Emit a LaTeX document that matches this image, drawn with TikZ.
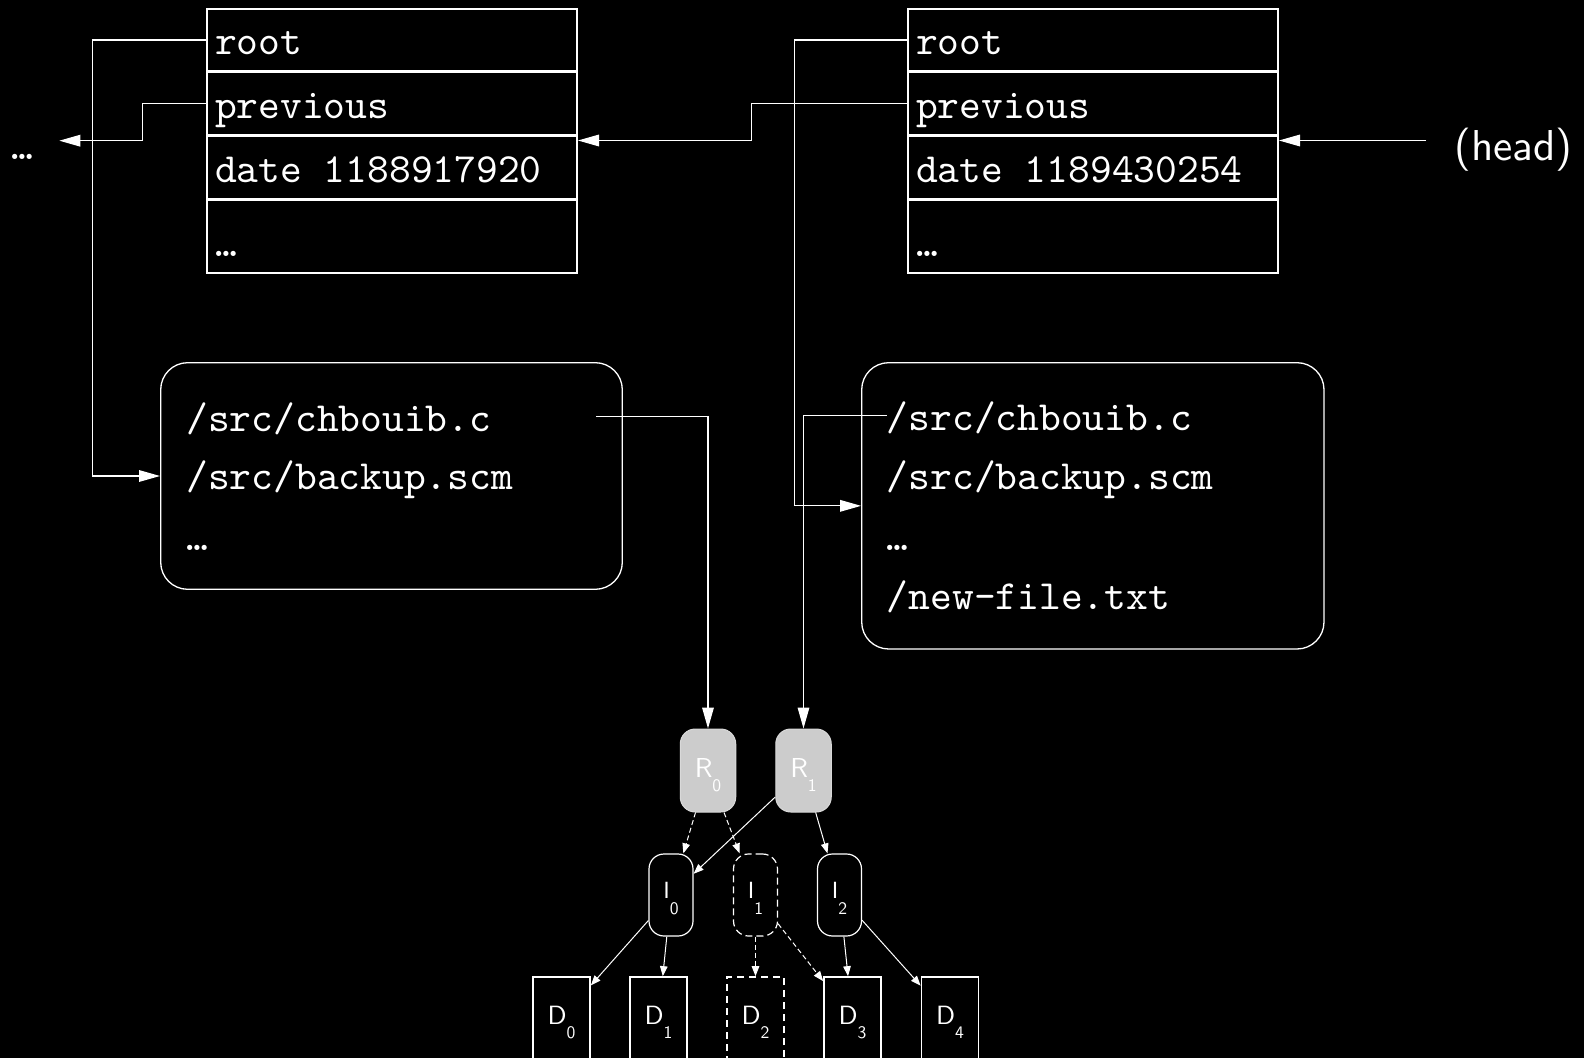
\documentclass[tikz,border=0pt]{standalone}
\usepackage{fontspec}
\setsansfont{lmsans10-regular.otf}
\setmonofont{lmmono10-regular.otf}
\usetikzlibrary{arrows.meta,calc}
% letter with a lowered index digit; #3 = drop, #4 = declared depth
\newcommand\lbl[4]{#1\raisebox{-#3}[0pt][#4]{\fontsize{8.8}{9}\selectfont #2}}
\begin{document}
\begin{tikzpicture}[x=0.5pt,y=-0.5pt,
  code/.style={font=\ttfamily\fontsize{20.74}{25}\selectfont, text=white},
  row/.style={code, draw=white, line width=1pt, inner xsep=4pt, inner ysep=0pt,
    text width=177pt, align=left, text height=14.9pt, text depth=0pt},
  files/.style={draw=white, line width=0.65pt, rounded corners=13.5pt},
  fline/.style={code, inner sep=0pt, anchor=base west, text height=15.3pt, text depth=0pt},
  link/.style={draw=white, line width=0.65pt, -{Triangle[length=10.5pt,width=5.8pt]}},
  rnode/.style={draw=white!85!black, line width=0.5pt, fill=white!80!black,
    rounded corners=7.5pt, minimum width=27.75pt, minimum height=41.5pt, inner sep=0pt,
    text=white, font=\sffamily\fontsize{13.7}{14}\selectfont},
  inode/.style={draw=white, line width=0.6pt, rounded corners=7.5pt,
    minimum width=22pt, minimum height=41pt, inner sep=0pt,
    text=white, font=\sffamily\fontsize{11.7}{12}\selectfont},
  dnode/.style={draw=white, line width=0.85pt, minimum width=28.5pt,
    minimum height=41.5pt, inner sep=0pt,
    text=white, font=\sffamily\fontsize{13.2}{14}\selectfont},
  tedge/.style={draw=white, line width=0.5pt, -{Triangle[length=5pt,width=3.8pt]}},
  ghost/.style={dash pattern=on 3.5pt off 2pt},
  ghostbox/.style={dash pattern=on 3.5pt off 2.5pt},
  tdash/.style={dash pattern=on 2.5pt off 1.5pt}]

\fill[black] (0,0) rectangle (1584,1058);
\useasboundingbox (0,0) rectangle (1584,1058);

% older commit
\node[row, minimum height=31.1pt]  (lroot) at (392,40.1)   {root};
\node[row, minimum height=31.65pt] (lprev) at (392,103.85) {previous};
\node[row, minimum height=31.5pt]  (ldate) at (392,168)    {date\hspace{4pt} 1188917920};
\node[row, minimum height=36.1pt, text height=20.4pt] (lmore) at (392,236.6) {…};

% newer commit
\node[row, minimum height=31.1pt]  (rroot) at (1093,40.1)   {root};
\node[row, minimum height=31.65pt] (rprev) at (1093,103.85) {previous};
\node[row, minimum height=31.5pt]  (rdate) at (1093,168)    {date\hspace{4pt} 1189430254};
\node[row, minimum height=36.1pt, text height=20.4pt] (rmore) at (1093,236.6) {…};

% file lists
\node[files, minimum width=230.8pt, minimum height=113.3pt] (lfiles) at (391.5,476) {};
\node[fline] (lc) at (186,431.7) {/src/chbouib.c};
\node[fline] (lb) at (186,490)   {/src/backup.scm};
\node[fline] (ld) at (186,551)   {…};

\node[files, minimum width=231.15pt, minimum height=143.15pt] (rfiles) at (1092.85,505.85) {};
\node[fline] (rc) at (886.5,431) {/src/chbouib.c};
\node[fline] (rb) at (886.5,490) {/src/backup.scm};
\node[fline] (rd) at (886.5,551) {…};
\node[fline] (rn) at (886.5,610) {/new-file.txt};

% head pointer and older history
\node[font=\sffamily\fontsize{21.6}{26}\selectfont, text=white, anchor=base west,
  inner sep=0pt] (headlbl) at (1454,160.5) {(head)};
\node[code, anchor=base west, inner sep=0pt] (ltrail) at (11.5,160) {…};
\coordinate (lend) at (59.3,140.7);
\coordinate (lin) at ($(ldate.north east)+(0,5)$);
\coordinate (rin) at ($(rdate.north east)+(0,5)$);
\coordinate (hstart) at ($(headlbl.west)+(-28,0)$);

% block tree
\node[rnode] (R0) at (708,770.5)   {\lbl{R}{0}{7pt}{3pt}};
\node[rnode] (R1) at (803.5,770.5) {\lbl{R}{1}{7pt}{3pt}};
\node[inode]        (I0) at (671,895)   {\lbl{I}{0}{8pt}{4.15pt}};
\node[inode, ghost] (I1) at (755.5,895) {\lbl{I}{1}{8pt}{4.15pt}};
\node[inode]        (I2) at (839.5,895) {\lbl{I}{2}{8pt}{4.15pt}};
\node[dnode]           (D0) at (561.5,1018.5) {\lbl{D}{0}{7.3pt}{3.35pt}};
\node[dnode]           (D1) at (658.5,1018.5) {\lbl{D}{1}{7.3pt}{3.35pt}};
\node[dnode, ghostbox] (D2) at (755.5,1018.5) {\lbl{D}{2}{7.3pt}{3.35pt}};
\node[dnode]           (D3) at (852.5,1018.5) {\lbl{D}{3}{7.3pt}{3.35pt}};
\node[dnode]           (D4) at (950,1018.5)   {\lbl{D}{4}{7.3pt}{3.35pt}};

% commit links
\draw[link] (lroot.west) -- ++(-113.2,0) |- (lfiles.west);
\draw[link] (lprev.west) -- ++(-63.5,0) |- (lend);
\draw[link] (rroot.west) -- ++(-112.6,0) |- (rfiles.west);
\draw[link] (rprev.west) -- ++(-155.4,0) |- (lin);
\draw[link] (hstart |- rin) -- (rin);

% file entries to tree roots
\draw[link] ($(lc.west)+(410,0)$) -| (R0.north);
\draw[link] (rc.west) -| (R1.north);

% tree edges
\draw[tedge, tdash] (R0) -- (I0);
\draw[tedge, tdash] (R0) -- (I1);
\draw[tedge] (R1) -- (I0);
\draw[tedge] (R1) -- (I2);
\draw[tedge] (I0) -- (D0);
\draw[tedge] (I0) -- (D1);
\draw[tedge, tdash] (I1) -- (D2);
\draw[tedge, tdash] (I1) -- (D3);
\draw[tedge] (I2) -- (D3);
\draw[tedge] (I2) -- (D4);
\end{tikzpicture}
\end{document}
